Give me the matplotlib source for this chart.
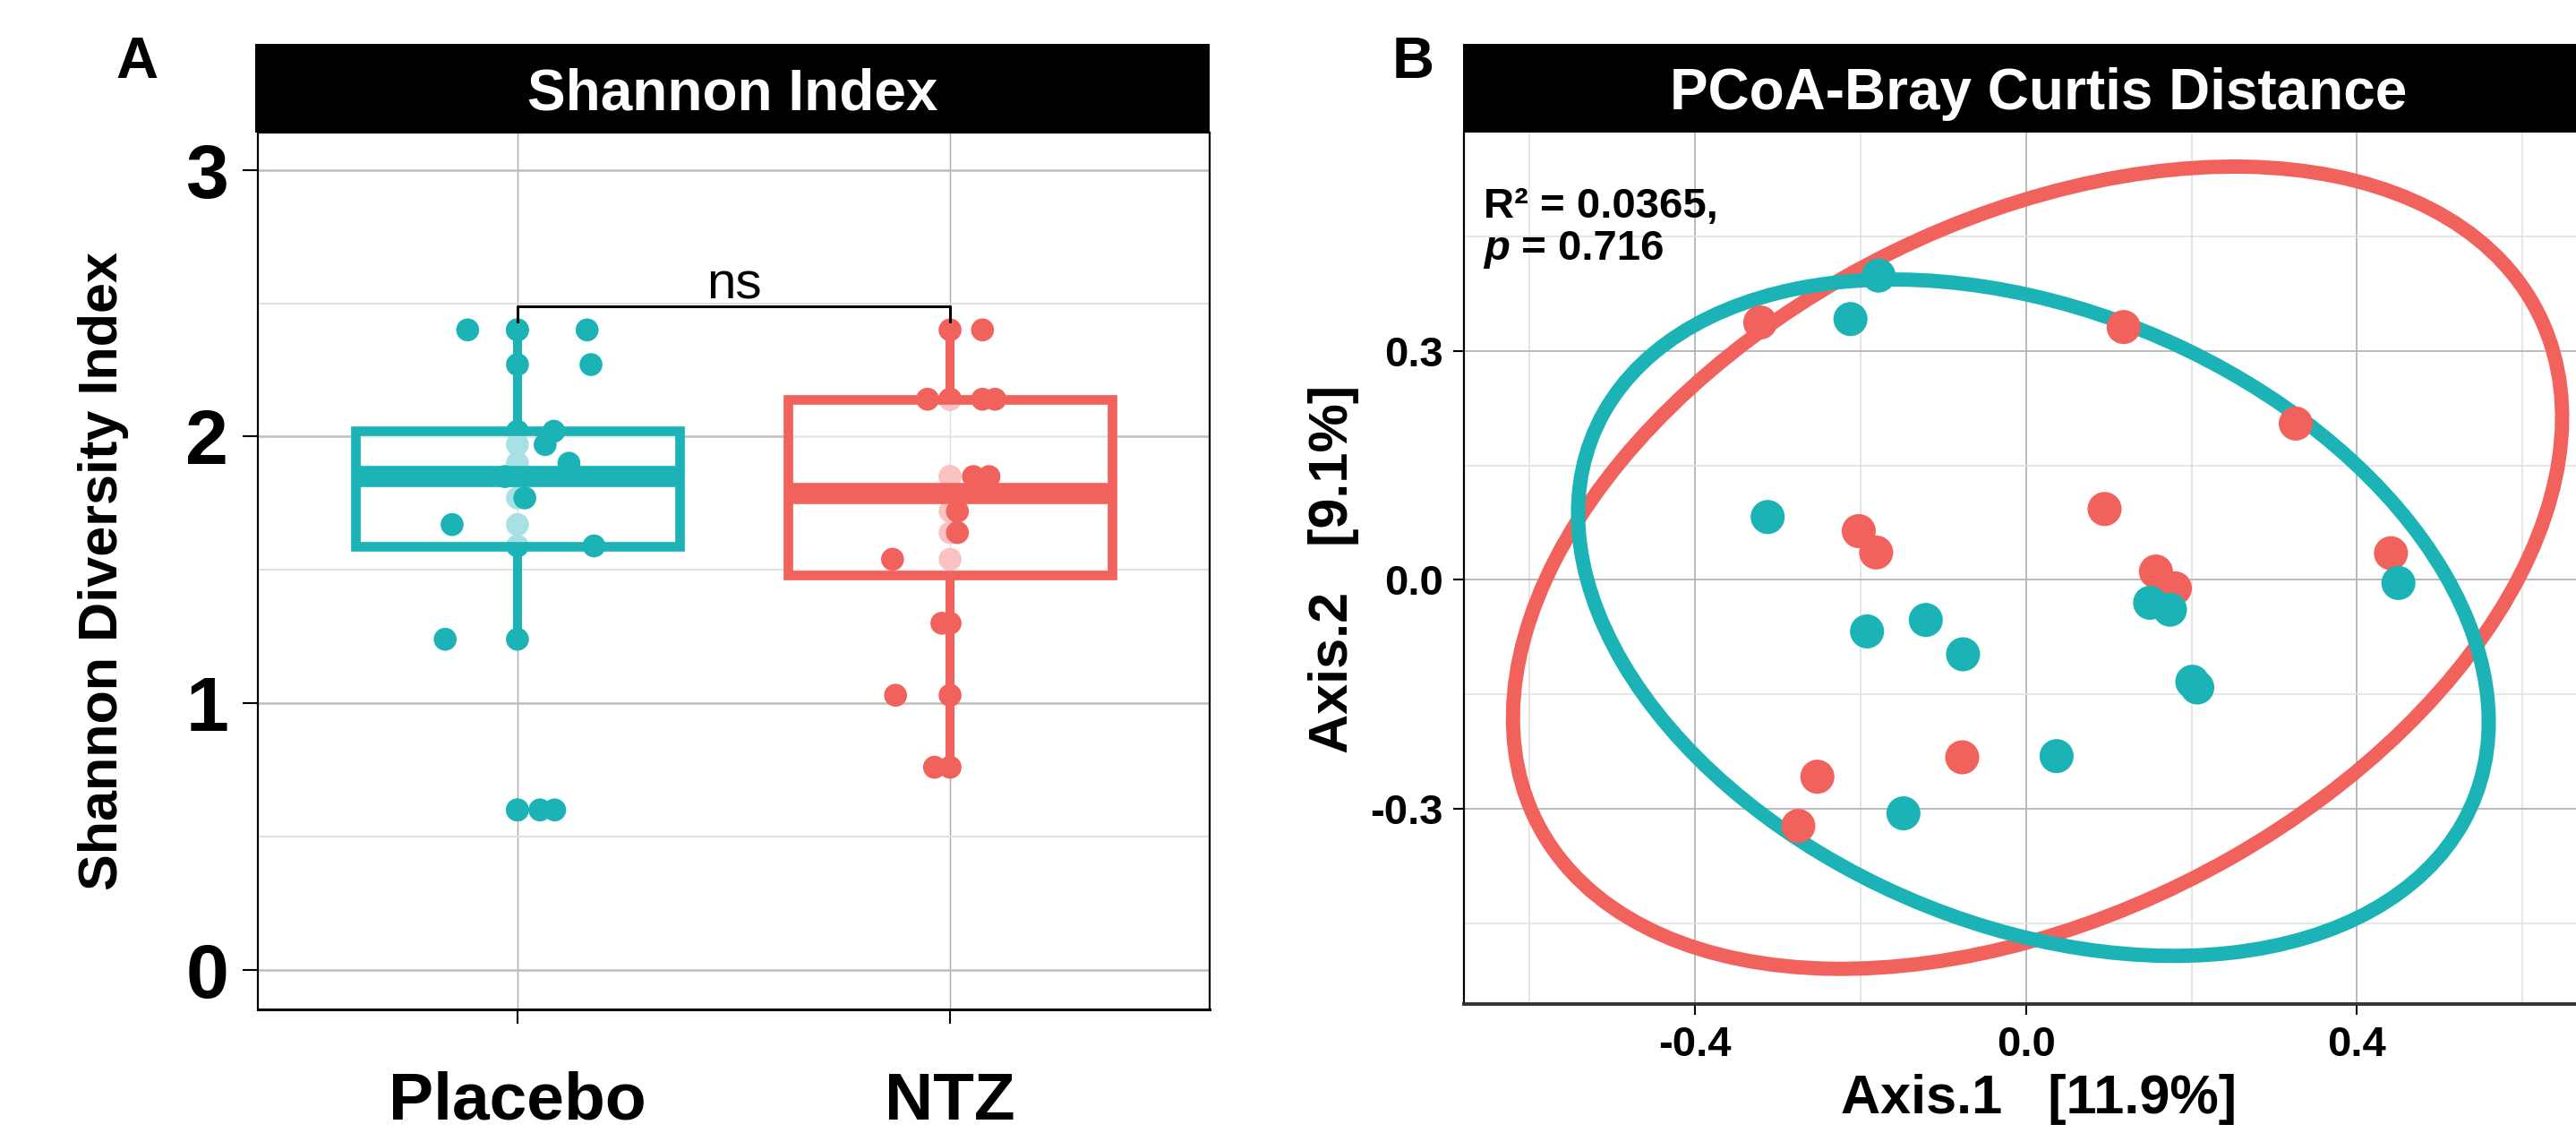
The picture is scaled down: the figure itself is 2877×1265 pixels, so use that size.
import numpy as np
import matplotlib
matplotlib.use("Agg")
import matplotlib.pyplot as plt
from matplotlib.patches import Ellipse

plt.rcParams['font.family'] = ['Liberation Sans', 'DejaVu Sans']
plt.rcParams['font.weight'] = 'bold'

TEAL = '#1BB3B6'
RED = '#F2625D'

# Panel A: Shannon diversity per sample
groups = ['Placebo', 'NTZ']
placebo_vals = [2.40, 2.40, 2.27, 2.02, 1.97, 1.90, 1.85, 1.77, 1.67, 1.59, 1.24, 0.60, 0.60]
placebo_jitter = [-0.115, 0.161, 0.170, 0.084, 0.064, 0.119, -0.029, 0.017, -0.151, 0.177, -0.167, 0.052, 0.086]
ntz_vals = [2.40, 2.14, 2.14, 2.14, 1.85, 1.85, 1.72, 1.64, 1.54, 1.30, 1.03, 0.76]
ntz_jitter = [0.075, -0.052, 0.075, 0.104, 0.054, 0.090, 0.017, 0.017, -0.133, -0.019, -0.126, -0.036]

# Panel B: PCoA coordinates
placebo_ax1 = [-0.178, -0.212, -0.312, -0.192, -0.121, -0.076, -0.148, 0.037, 0.150, 0.174, 0.201, 0.207, 0.450]
placebo_ax2 = [0.399, 0.342, 0.0825, -0.0675, -0.0525, -0.0975, -0.306, -0.231, -0.030, -0.039, -0.1335, -0.141, -0.004]
ntz_ax1 = [-0.321, 0.118, 0.326, -0.202, -0.181, 0.095, 0.157, 0.180, 0.441, -0.077, -0.252, -0.275]
ntz_ax2 = [0.3375, 0.3315, 0.205, 0.064, 0.036, 0.093, 0.011, -0.011, 0.035, -0.2325, -0.258, -0.3225]

# 95% ellipses: center, width, height, angle (deg)
placebo_ellipse = ((0.009, -0.0495), 1.169, 0.794, -27.4)
ntz_ellipse = ((0.014, 0.016), 1.384, 0.893, 31.7)

W, H = 2877, 1265
fig = plt.figure(figsize=(W / 100, H / 100), dpi=100)


def fig_box(left, top, right, bottom):
    return [left / W, 1 - bottom / H, (right - left) / W, (bottom - top) / H]


def add_strip(box, title):
    s = fig.add_axes(box)
    s.set_facecolor('black')
    s.set_xticks([])
    s.set_yticks([])
    for sp in s.spines.values():
        sp.set_visible(False)
    s.text(0.5, 0.26, title, transform=s.transAxes, ha='center', va='baseline',
           color='white', fontsize=46, fontweight='bold')
    return s


# ---------------- Panel A ----------------
axA = fig.add_axes(fig_box(288, 148, 1351, 1127))
axA.set_xlim(0.4, 2.6)
axA.set_ylim(-0.148, 3.14)

colors = [TEAL, RED]
all_vals = [placebo_vals, ntz_vals]
all_jit = [placebo_jitter, ntz_jitter]

for i, (vals, c) in enumerate(zip(all_vals, colors)):
    pos = i + 1
    axA.scatter([pos] * len(vals), vals, s=340, color=c, edgecolors='none', zorder=2)
    bp = axA.boxplot([vals], positions=[pos], widths=0.75, patch_artist=True,
                     showcaps=False, showfliers=False, manage_ticks=False,
                     boxprops=dict(facecolor=(1, 1, 1, 0.62), edgecolor=c, linewidth=7.7),
                     whiskerprops=dict(color=c, linewidth=7.2, solid_capstyle='butt'),
                     medianprops=dict(color=c, linewidth=17, solid_capstyle='butt'))
    for art in bp['boxes'] + bp['whiskers'] + bp['medians']:
        art.set_zorder(3)
    axA.scatter(np.array(all_jit[i]) + pos, vals, s=340, color=c, edgecolors='none', zorder=4)

# significance bracket
axA.plot([1, 1, 2, 2], [2.43, 2.487, 2.487, 2.43], color='black', lw=2.2, zorder=5)
axA.text(1.5, 2.517, 'ns', ha='center', va='baseline', fontsize=42, fontweight='normal')

axA.set_xticks([1, 2])
axA.set_xticklabels(groups)
axA.set_yticks([0, 1, 2, 3])
axA.set_yticks([0.5, 1.5, 2.5], minor=True)
axA.tick_params(axis='y', which='major', length=12, width=1.5, pad=11.5, labelsize=62)
axA.tick_params(axis='x', which='major', length=11.5, width=1.5, pad=38, labelsize=54)
axA.tick_params(which='minor', length=0)
axA.grid(which='major', axis='y', color='#BEBEBE', lw=1.8, zorder=0)
axA.grid(which='minor', axis='y', color='#E0E0E0', lw=1.4, zorder=0)
axA.grid(which='major', axis='x', color='#A8A8A8', lw=1.0, zorder=0)
axA.set_axisbelow(True)
for name, sp in axA.spines.items():
    sp.set_color('black')
    sp.set_linewidth(1.6)
axA.spines['bottom'].set_linewidth(2.2)

add_strip(fig_box(285, 49, 1351, 148), 'Shannon Index')
fig.text(116 / W, 1 - 637 / H, 'Shannon Diversity Index', rotation=90,
         ha='center', va='center', fontsize=44, fontweight='bold')
fig.text(153 / W, 1 - 87 / H, 'A', ha='center', va='baseline', fontsize=47, fontweight='bold')

# ---------------- Panel B ----------------
axB = fig.add_axes(fig_box(1635, 148, 2919, 1121))
axB.set_xlim(-0.679, 0.71)
axB.set_ylim(-0.556, 0.5865)

for (ctr, w, h, ang), c, z in [(ntz_ellipse, RED, 2), (placebo_ellipse, TEAL, 2.1)]:
    axB.add_patch(Ellipse(ctr, w, h, angle=ang, fill=False, edgecolor=c,
                          linewidth=11.5, zorder=z))

axB.scatter(ntz_ax1, ntz_ax2, s=750, color=RED, edgecolors='none', zorder=3)
axB.scatter(placebo_ax1, placebo_ax2, s=750, color=TEAL, edgecolors='none', zorder=3.1)

axB.set_xticks([-0.4, 0.0, 0.4])
axB.set_xticklabels(['-0.4', '0.0', '0.4'])
axB.set_xticks([-0.6, -0.2, 0.2, 0.6], minor=True)
axB.set_yticks([-0.3, 0.0, 0.3])
axB.set_yticklabels(['-0.3', '0.0', '0.3'])
axB.set_yticks([-0.45, -0.15, 0.15, 0.45], minor=True)
axB.tick_params(axis='x', which='major', length=8.3, width=1.5, pad=9, labelsize=34)
axB.tick_params(axis='y', which='major', length=8.5, width=1.5, pad=8, labelsize=34)
axB.tick_params(which='minor', length=0)
axB.grid(which='major', color='#B4B4B4', lw=1.3, zorder=0)
axB.grid(which='minor', color='#E2E2E2', lw=1.2, zorder=0)
axB.set_axisbelow(True)
axB.spines['top'].set_visible(False)
axB.spines['right'].set_visible(False)
axB.spines['left'].set_color('black')
axB.spines['left'].set_linewidth(1.6)
axB.spines['bottom'].set_color('#333333')
axB.spines['bottom'].set_linewidth(2.8)

r2 = axB.text(0.0171, 0.902, 'R\u00b2 = 0.0365,', transform=axB.transAxes,
              ha='left', va='baseline', fontsize=34, fontweight='bold')
ptxt = axB.text(0.0171, 0.844, 'p', transform=axB.transAxes, ha='left', va='bottom',
                fontsize=34, fontweight='bold', fontstyle='italic')
axB.annotate(' = 0.716', xy=(1, 0), xycoords=ptxt, ha='left', va='bottom',
             fontsize=34, fontweight='bold')

add_strip(fig_box(1634, 49, 2919, 148), 'PCoA-Bray Curtis Distance')
fig.text(2277 / W, 1 - 1243 / H, 'Axis.1   [11.9%]', ha='center', va='baseline',
         fontsize=44, fontweight='bold')
fig.text(1490 / W, 1 - 635 / H, 'Axis.2   [9.1%]', rotation=90, ha='center', va='center',
         fontsize=44, fontweight='bold')
fig.text(1578 / W, 1 - 87 / H, 'B', ha='center', va='baseline', fontsize=47, fontweight='bold')

fig.savefig('out.png', dpi=100, facecolor='white')
